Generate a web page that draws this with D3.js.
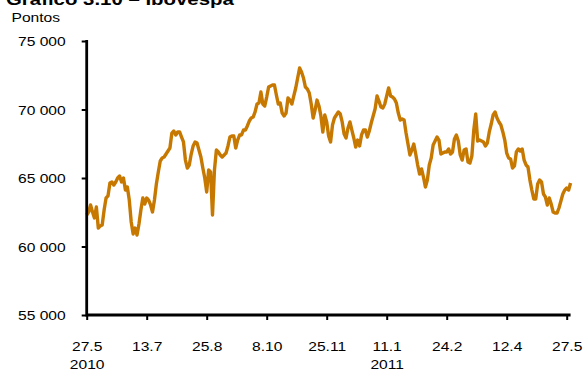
<!DOCTYPE html>
<html>
<head>
<meta charset="utf-8">
<script src="https://cdn.jsdelivr.net/npm/d3@7"></script>
<style>
  body { margin: 0; background: #fff; }
  svg text { font-family: "Liberation Sans", Arial, sans-serif; fill: #000; }
</style>
</head>
<body>
<div id="chart"></div>
<script>
// Ibovespa, daily close (points), one value per trading session
const ibovespa = [
  62300, 62520, 63030, 62520, 62080, 62880, 61350, 61500, 61570, 62660,
  63540, 63690, 64630, 64710, 64490, 64710, 65000, 65150, 64710, 65000,
  64120, 64340, 63390, 61790, 60910, 61350, 60840, 61640, 62660, 63540,
  63100, 63540, 63390, 63030, 62520, 63390, 64560, 65440, 66240, 66460,
  66530, 66750, 66970, 67190, 68280, 68430, 68140, 68360, 68360, 67990,
  67630, 66310, 65730, 65950, 66750, 67340, 67630, 67550, 67040, 66530,
  65730, 65000, 63980, 65580, 65440, 62300, 65580, 67040, 66900, 66680,
  66530, 66680, 66820, 67340, 67990, 68070, 68070, 67190, 67770, 68140,
  68140, 68500, 68500, 68800, 69160, 69380, 69450, 69820, 70400, 70470,
  71280, 70400, 70260, 70910, 71640, 71720, 71790, 71790, 71060, 70400,
  70470, 69740, 69530, 69740, 70840, 70690, 70400, 70990, 71570, 72300,
  73030, 72740, 72300, 71640, 71500, 71200, 70400, 69380, 69960, 70690,
  70260, 69530, 68360, 69600, 69090, 68070, 67630, 68870, 69380, 69600,
  69820, 69670, 69090, 68210, 67920, 68650, 69090, 68500, 67920, 67260,
  67770, 67340, 68140, 68500, 68500, 67990, 68430, 69010, 69530, 70040,
  70990, 70620, 70180, 70110, 70400, 70990, 71570, 70990, 70910, 70770,
  70470, 69740, 69230, 69310, 69230, 68280, 67480, 66680, 67040, 67480,
  66750, 65950, 65290, 65660, 65070, 64340, 64850, 65950, 66460, 67410,
  67700, 67990, 67770, 66750, 66820, 66900, 66900, 67120, 66750, 66900,
  67850, 68140, 67700, 66680, 66310, 67040, 67120, 66170, 66090, 66610,
  68500, 69670, 67700, 67770, 67700, 67630, 67340, 67550, 68360, 68940,
  69600, 69820, 69380, 69090, 68870, 68360, 67770, 66820, 66460, 66390,
  65730, 65880, 66900, 67120, 66970, 67120, 66310, 65950, 65800, 64850,
  64120, 63470, 63470, 64560, 64850, 64710, 63830, 63610, 63030, 63540,
  63100, 62520, 62440, 62440, 62810, 63320, 63830, 64120, 64270, 64120,
  64630
];
const tickLabels = ["27.5", "13.7", "25.8", "8.10", "25.11", "11.1", "24.2", "12.4", "27.5"];
const yearLabels = ["2010", "", "", "", "", "2011", "", "", ""];
const yTicks = [55000, 60000, 65000, 70000, 75000];
const sessionsPerTick = 31;

const W = 585, H = 371;
const stretch = 1.2; // the original text is set a bit wide

const svg = d3.select('#chart').append('svg')
  .attr('width', W)
  .attr('height', H);

const tickIdx = tickLabels.map((d, i) => i * sessionsPerTick);

const x = d3.scaleLinear()
  .domain([0, tickIdx[tickIdx.length - 1]])
  .range([86.7, 566.7]);

const y = d3.scaleLinear()
  .domain([55000, 75000])
  .range([315, 41]);

const fmt = d3.formatLocale({decimal: ",", thousands: " ", grouping: [3], currency: ["", ""]}).format(",");

// title (cut at the top in the original) and unit
svg.append("text")
  .attr("transform", `translate(6,5) scale(${stretch},1)`)
  .style("font-size", "17px")
  .style("font-weight", "bold")
  .text("Gráfico 3.10 – Ibovespa");

svg.append("text")
  .attr("transform", `translate(11.5,22) scale(${stretch},1)`)
  .style("font-size", "13px")
  .text("Pontos");

// line
const line = d3.line()
  .x((d, i) => x(i))
  .y(d => y(d));

svg.append("path")
  .datum(ibovespa)
  .attr("fill", "none")
  .attr("stroke", "#c67800")
  .attr("stroke-width", 3.4)
  .attr("stroke-linejoin", "round")
  .attr("d", line);

// y axis
const yAxis = svg.append("g")
  .attr("transform", `translate(${x(0)},0)`)
  .call(d3.axisLeft(y).tickValues(yTicks).tickFormat(fmt).tickSize(5).tickSizeOuter(0));

yAxis.select(".domain").remove();
yAxis.selectAll(".tick line").attr("stroke", "#000").attr("stroke-width", 2);
yAxis.selectAll(".tick text")
  .attr("x", 0)
  .attr("dy", "0.36em")
  .attr("transform", `translate(-21,0) scale(${stretch},1)`)
  .style("font-size", "13px")
  .style("font-family", "'Liberation Sans', Arial, sans-serif");

// x axis
const xAxis = svg.append("g")
  .attr("transform", `translate(0,${y(55000)})`)
  .call(d3.axisBottom(x).tickValues(tickIdx).tickFormat((d, i) => tickLabels[i]).tickSize(5).tickSizeOuter(0));

xAxis.select(".domain").remove();
xAxis.selectAll(".tick line").attr("stroke", "#000").attr("stroke-width", 2);
xAxis.selectAll(".tick text")
  .attr("y", 0)
  .attr("dy", 0)
  .attr("transform", `translate(0,36) scale(${stretch},1)`)
  .style("font-size", "13px")
  .style("font-family", "'Liberation Sans', Arial, sans-serif");

xAxis.selectAll(".tick")
  .append("text")
  .attr("fill", "#000")
  .attr("text-anchor", "middle")
  .attr("transform", `translate(0,54) scale(${stretch},1)`)
  .style("font-size", "13px")
  .text((d, i) => yearLabels[i]);

// axis lines
svg.append("line")
  .attr("x1", x(0)).attr("x2", x(0))
  .attr("y1", y(75000) - 1).attr("y2", y(55000) + 1.5)
  .attr("stroke", "#000").attr("stroke-width", 2.8);

svg.append("line")
  .attr("x1", x(0)).attr("x2", x(ibovespa.length - 1))
  .attr("y1", y(55000)).attr("y2", y(55000))
  .attr("stroke", "#000").attr("stroke-width", 2.8);
</script>
</body>
</html>
